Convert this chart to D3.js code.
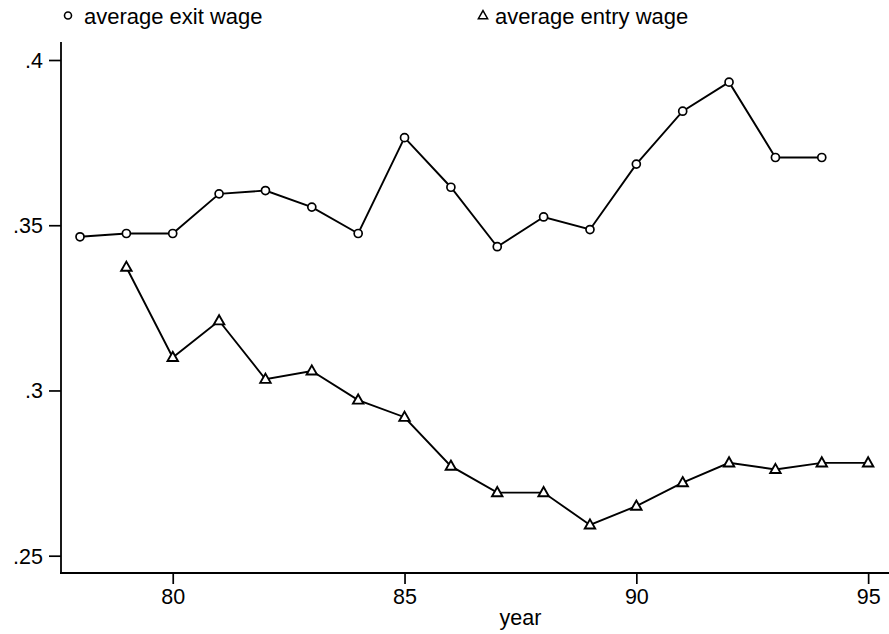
<!DOCTYPE html>
<html>
<head>
<meta charset="utf-8">
<script src="https://cdn.jsdelivr.net/npm/d3@7"></script>
<style>
  html, body { margin: 0; padding: 0; background: #fff; }
  svg { display: block; font-family: Arial, "Liberation Sans", Helvetica, sans-serif; }
</style>
</head>
<body>
<svg id="chart" width="889" height="634"></svg>
<script>
// Average exit and entry wages by year
const years     = [78, 79, 80, 81, 82, 83, 84, 85, 86, 87, 88, 89, 90, 91, 92, 93, 94, 95];
const exitWage  = [0.3465, 0.3475, 0.3475, 0.3595, 0.3605, 0.3555, 0.3475, 0.3765, 0.3615, 0.3435, 0.3525, 0.3487, 0.3685, 0.3845, 0.3933, 0.3705, 0.3705, null];
const entryWage = [null, 0.3373, 0.3100, 0.3211, 0.3034, 0.3059, 0.2971, 0.2919, 0.2771, 0.2691, 0.2691, 0.2593, 0.2650, 0.2721, 0.2781, 0.2761, 0.2781, 0.2781];
const xTicks = [80, 85, 90, 95];
const yTicks = [0.25, 0.3, 0.35, 0.4];
const yTickLabels = [".25", ".3", ".35", ".4"];
const seriesNames = ["average exit wage", "average entry wage"];

const svg = d3.select("#chart");

const x = d3.scaleLinear().domain([77.59, 95.45]).range([61, 889]);
const y = d3.scaleLinear().domain([0.25, 0.4]).range([555.7, 60]);

const tickFont = 21.5;
const legendFont = 22;

// y axis
const yAxis = d3.axisLeft(y)
  .tickValues(yTicks)
  .tickFormat((d, i) => yTickLabels[i])
  .tickSize(12)
  .tickPadding(6);
const gy = svg.append("g").attr("transform", "translate(61,0)").call(yAxis);
gy.select(".domain").remove();
gy.selectAll(".tick line").attr("stroke", "#000").attr("stroke-width", 1.7);
gy.selectAll(".tick text").attr("font-size", tickFont).attr("fill", "#000")
  .attr("font-family", "Arial, 'Liberation Sans', sans-serif").attr("dy", "0.35em");
svg.append("line").attr("x1", 61).attr("x2", 61).attr("y1", 42).attr("y2", 573)
  .attr("stroke", "#000").attr("stroke-width", 1.8);

// x axis
const xAxis = d3.axisBottom(x)
  .tickValues(xTicks)
  .tickFormat(d3.format("d"))
  .tickSize(11)
  .tickPadding(5);
const gx = svg.append("g").attr("transform", "translate(0,573)").call(xAxis);
gx.select(".domain").remove();
gx.selectAll(".tick line").attr("stroke", "#000").attr("stroke-width", 1.7);
gx.selectAll(".tick text").attr("font-size", tickFont).attr("fill", "#000")
  .attr("font-family", "Arial, 'Liberation Sans', sans-serif");
svg.append("line").attr("x1", 60).attr("x2", 889).attr("y1", 573).attr("y2", 573)
  .attr("stroke", "#000").attr("stroke-width", 1.8);

svg.append("text")
  .attr("x", x(87.5)).attr("y", 625)
  .attr("text-anchor", "middle")
  .attr("font-size", tickFont)
  .text("year");

// series lines
const line = d3.line()
  .defined(d => d.v !== null)
  .x(d => x(d.year))
  .y(d => y(d.v));

const exitData  = years.map((yr, i) => ({ year: yr, v: exitWage[i] }));
const entryData = years.map((yr, i) => ({ year: yr, v: entryWage[i] }));

[exitData, entryData].forEach(data => {
  svg.append("path")
    .datum(data)
    .attr("d", line)
    .attr("fill", "none")
    .attr("stroke", "#000")
    .attr("stroke-width", 1.9);
});

// markers
const circleR = 4;
svg.append("g").selectAll("circle")
  .data(exitData.filter(d => d.v !== null))
  .join("circle")
  .attr("cx", d => x(d.year))
  .attr("cy", d => y(d.v))
  .attr("r", circleR)
  .attr("fill", "#fff")
  .attr("stroke", "#000")
  .attr("stroke-width", 1.7);

const triPath = (cx, cy, s) =>
  `M${cx},${cy - s * 0.62}L${cx + s * 0.58},${cy + s * 0.4}L${cx - s * 0.58},${cy + s * 0.4}Z`;

svg.append("g").selectAll("path")
  .data(entryData.filter(d => d.v !== null))
  .join("path")
  .attr("d", d => triPath(x(d.year), y(d.v), 9))
  .attr("fill", "#fff")
  .attr("stroke", "#000")
  .attr("stroke-width", 1.9);

// legend
const legend = svg.append("g");
legend.append("circle")
  .attr("cx", 68).attr("cy", 15.5).attr("r", 3.5)
  .attr("fill", "#fff").attr("stroke", "#000").attr("stroke-width", 1.6);
legend.append("text")
  .attr("x", 84).attr("y", 23.5)
  .attr("font-size", legendFont)
  .text(seriesNames[0]);
legend.append("path")
  .attr("d", triPath(483, 15.5, 8))
  .attr("fill", "#fff").attr("stroke", "#000").attr("stroke-width", 1.5);
legend.append("text")
  .attr("x", 495).attr("y", 23.5)
  .attr("font-size", legendFont)
  .text(seriesNames[1]);
</script>
</body>
</html>
